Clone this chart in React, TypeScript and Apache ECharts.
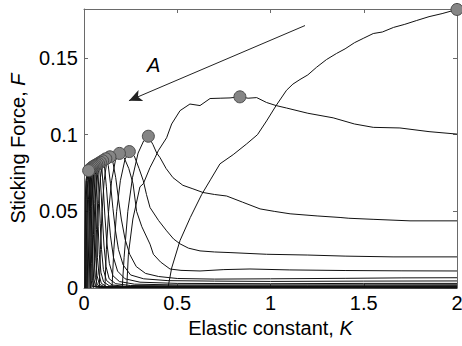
import React, { useEffect, useRef } from "react";
import * as echarts from "echarts";

// ---- data (K, F) ----
const curve1 = [[0.45,0],[0.47,0.013],[0.515,0.031],[0.57,0.046],[0.631,0.061],[0.68,0.071],[0.729,0.081],[0.8,0.087],[0.872,0.094],[0.93,0.1],[0.979,0.109],[1.03,0.119],[1.086,0.129],[1.12,0.133],[1.158,0.136],[1.2,0.139],[1.247,0.144],[1.3,0.149],[1.354,0.153],[1.4,0.156],[1.45,0.16],[1.5,0.163],[1.551,0.166],[1.6,0.167],[1.66,0.17],[1.72,0.172],[1.784,0.1745],[1.85,0.177],[1.92,0.179],[2.0,0.1817]];
const curve2 = [[0.229,0],[0.238,0.022],[0.262,0.045],[0.3,0.066],[0.318,0.068],[0.354,0.0786],[0.381,0.085],[0.398,0.0895],[0.443,0.098],[0.47,0.107],[0.515,0.1157],[0.568,0.12],[0.622,0.119],[0.676,0.1236],[0.73,0.1238],[0.783,0.124],[0.836,0.1247],[0.88,0.1238],[0.926,0.1242],[0.979,0.121],[1.03,0.119],[1.086,0.1174],[1.2,0.114],[1.336,0.111],[1.45,0.107],[1.551,0.1048],[1.694,0.1044],[1.85,0.102],[2.0,0.1004]];
const curve3 = [[0.205,0],[0.215,0.02],[0.235,0.05],[0.26,0.072],[0.29,0.088],[0.32,0.096],[0.345,0.099],[0.37,0.0935],[0.39,0.088],[0.408,0.085],[0.44,0.078],[0.477,0.072],[0.53,0.067],[0.584,0.0647],[0.638,0.0623],[0.7,0.061],[0.765,0.06],[0.85,0.056],[0.944,0.0516],[1.02,0.05],[1.105,0.0484],[1.25,0.047],[1.373,0.046],[1.42,0.0455],[1.55,0.0448],[1.748,0.0438],[2.0,0.0438]];
const curve4 = [[0.15,0],[0.16,0.025],[0.175,0.05],[0.195,0.07],[0.22,0.084],[0.243,0.089],[0.27,0.086],[0.295,0.078],[0.318,0.07],[0.335,0.061],[0.354,0.0525],[0.4,0.044],[0.443,0.0373],[0.48,0.032],[0.515,0.0288],[0.56,0.026],[0.622,0.0242],[0.7,0.0235],[0.783,0.0231],[0.979,0.022],[1.2,0.0215],[1.4,0.0208],[1.657,0.0203],[2.0,0.0203]];
const curve5 = [[0.112,0],[0.12,0.025],[0.132,0.05],[0.148,0.07],[0.168,0.083],[0.19,0.0878],[0.215,0.085],[0.24,0.078],[0.263,0.068],[0.282,0.05],[0.31,0.04],[0.354,0.0286],[0.372,0.022],[0.41,0.017],[0.461,0.0124],[0.52,0.0115],[0.622,0.0111],[0.75,0.012],[0.89,0.0124],[1.1,0.0118],[1.4,0.0114],[1.7,0.0112],[2.0,0.0111]];
const curve6 = [[0.082,0],[0.088,0.025],[0.097,0.05],[0.108,0.07],[0.122,0.082],[0.139,0.0856],[0.155,0.082],[0.17,0.072],[0.185,0.058],[0.2,0.045],[0.22,0.032],[0.245,0.022],[0.28,0.014],[0.33,0.0095],[0.4,0.0075],[0.5,0.0062],[0.7,0.0058],[1.0,0.006],[1.4,0.0063],[1.7,0.0066],[2.0,0.0067]];
const curve7 = [[0.065,0],[0.07,0.03],[0.078,0.055],[0.088,0.072],[0.1,0.081],[0.117,0.0843],[0.13,0.08],[0.142,0.068],[0.155,0.052],[0.168,0.038],[0.185,0.025],[0.21,0.015],[0.25,0.0085],[0.32,0.006],[0.45,0.0048],[0.7,0.0045],[1.0,0.0043],[1.5,0.0045],[2.0,0.0046]];
const curve8 = [[0.052,0],[0.057,0.03],[0.064,0.058],[0.073,0.074],[0.085,0.081],[0.1,0.083],[0.11,0.079],[0.12,0.066],[0.13,0.05],[0.142,0.034],[0.158,0.02],[0.18,0.011],[0.22,0.006],[0.3,0.0038],[0.5,0.003],[1.0,0.0028],[1.5,0.003],[2.0,0.003]];
const curve9 = [[0.042,0],[0.046,0.03],[0.052,0.058],[0.06,0.074],[0.072,0.08],[0.088,0.082],[0.096,0.078],[0.104,0.064],[0.112,0.047],[0.122,0.03],[0.136,0.016],[0.155,0.008],[0.19,0.0042],[0.27,0.0025],[0.5,0.002],[1.0,0.002],[2.0,0.0021]];
const curve10 = [[0.035,0],[0.038,0.03],[0.043,0.058],[0.05,0.073],[0.062,0.079],[0.078,0.0812],[0.085,0.077],[0.092,0.062],[0.099,0.045],[0.107,0.028],[0.118,0.014],[0.135,0.006],[0.17,0.0028],[0.25,0.0016],[0.5,0.0014],[1.2,0.0014],[2.0,0.0015]];
const curve11 = [[0.028,0],[0.031,0.03],[0.035,0.058],[0.041,0.072],[0.053,0.079],[0.069,0.0806],[0.075,0.076],[0.081,0.06],[0.087,0.042],[0.094,0.025],[0.104,0.012],[0.12,0.005],[0.15,0.002],[0.22,0.0011],[0.6,0.001],[2.0,0.001]];
const curve12 = [[0.022,0],[0.025,0.03],[0.029,0.058],[0.035,0.072],[0.046,0.078],[0.061,0.08],[0.066,0.075],[0.071,0.058],[0.076,0.04],[0.082,0.022],[0.091,0.01],[0.105,0.004],[0.135,0.0015],[0.2,0.0008],[2.0,0.0007]];
const curve13 = [[0.018,0],[0.02,0.03],[0.024,0.058],[0.03,0.071],[0.04,0.077],[0.054,0.0795],[0.058,0.074],[0.063,0.056],[0.067,0.038],[0.072,0.02],[0.08,0.009],[0.093,0.003],[0.12,0.001],[0.2,0.0005],[2.0,0.0005]];
const curve14 = [[0.014,0],[0.016,0.03],[0.019,0.058],[0.024,0.071],[0.034,0.077],[0.047,0.079],[0.051,0.073],[0.055,0.055],[0.059,0.036],[0.063,0.019],[0.07,0.008],[0.082,0.0025],[0.11,0.0008],[2.0,0.0003]];
const curve15 = [[0.011,0],[0.013,0.03],[0.016,0.058],[0.02,0.07],[0.029,0.076],[0.041,0.0784],[0.044,0.073],[0.048,0.054],[0.051,0.035],[0.055,0.018],[0.061,0.007],[0.072,0.002],[0.1,0.0005],[2.0,0.0002]];
const curve16 = [[0.008,0],[0.01,0.03],[0.012,0.058],[0.016,0.07],[0.024,0.0755],[0.035,0.0778],[0.038,0.072],[0.041,0.053],[0.044,0.034],[0.047,0.017],[0.052,0.006],[0.062,0.0015],[0.09,0.0003],[2.0,0.0001]];
const curve17 = [[0.006,0],[0.007,0.03],[0.009,0.058],[0.013,0.07],[0.02,0.075],[0.03,0.0772],[0.033,0.071],[0.035,0.052],[0.038,0.033],[0.041,0.016],[0.045,0.005],[0.054,0.001],[0.08,0.0002],[2.0,0.0001]];
const curve18 = [[0.004,0],[0.005,0.03],[0.007,0.058],[0.01,0.07],[0.016,0.074],[0.025,0.0766],[0.028,0.07],[0.03,0.05],[0.032,0.032],[0.035,0.015],[0.038,0.005],[0.045,0.001],[2.0,0.0001]];

const curves = [curve1, curve2, curve3, curve4, curve5, curve6, curve7, curve8, curve9, curve10, curve11, curve12, curve13, curve14, curve15, curve16, curve17, curve18];

// arrow annotation (data coordinates)
const arrowStart = [1.185, 0.1712];
const arrowEnd = [0.241, 0.1222];

const xTicks = { min: 0, max: 2, interval: 0.5 };
const yTicks = { min: 0, max: 0.182, interval: 0.05 };

const FONT = "'Liberation Sans', Arial, Helvetica, sans-serif";

export default function App() {
  const ref = useRef<HTMLDivElement>(null);
  useEffect(() => {
    if (!ref.current) return;
    const chart = echarts.init(ref.current, undefined, { renderer: "svg" });
    const peaks = curves.map((c) => c.reduce((a, b) => (b[1] > a[1] ? b : a)));
    const frameColor = "#6a6a6a";
    const axisCommon = {
      type: "value" as const,
      axisLine: { show: true, onZero: false, lineStyle: { color: frameColor, width: 1 } },
      axisTick: { show: true, inside: true, length: 4, lineStyle: { color: frameColor } },
      splitLine: { show: false },
    };
    const lineSeries = curves.map((c) => ({
      type: "line",
      data: c,
      symbol: "none",
      showSymbol: false,
      lineStyle: { color: "#111111", width: 1 },
      z: 2,
      silent: true,
    }));
    chart.setOption({
      animation: false,
      backgroundColor: "#ffffff",
      grid: { left: 84, right: 5, top: 9, bottom: 58, containLabel: false, outerBoundsMode: "none" },
      textStyle: { fontFamily: FONT },
      xAxis: [
        {
          ...axisCommon,
          position: "bottom",
          ...xTicks,
          name: "Elastic constant, {i|K}",
          nameLocation: "middle",
          nameGap: 28,
          nameTextStyle: { fontSize: 20, color: "#000", fontFamily: FONT, rich: { i: { fontStyle: "italic", fontSize: 20, fontFamily: FONT } } },
          axisLabel: { fontSize: 20, color: "#000", margin: 5, fontFamily: FONT },
        },
        {
          ...axisCommon,
          position: "top",
          ...xTicks,
          axisLabel: { show: false },
        },
      ],
      yAxis: [
        {
          ...axisCommon,
          position: "left",
          ...yTicks,
          name: "Sticking Force, {i|F}",
          nameLocation: "middle",
          nameGap: 55,
          nameTextStyle: { fontSize: 20, color: "#000", fontFamily: FONT, rich: { i: { fontStyle: "italic", fontSize: 20, fontFamily: FONT } } },
          axisLabel: { fontSize: 20, color: "#000", margin: 6, showMaxLabel: false, fontFamily: FONT },
        },
        {
          ...axisCommon,
          position: "right",
          ...yTicks,
          axisLabel: { show: false },
        },
      ],
      series: [
        ...lineSeries,
        {
          type: "scatter",
          data: peaks,
          symbol: "circle",
          symbolSize: 12,
          itemStyle: { color: "#858585", borderColor: "#4a4a4a", borderWidth: 1, opacity: 1 },
          z: 5,
          silent: true,
        },
        {
          type: "line",
          data: [],
          silent: true,
          markLine: {
            silent: true,
            symbol: ["none", "arrow"],
            symbolSize: [9, 13],
            label: { show: false },
            lineStyle: { color: "#222", width: 1, type: "solid" },
            data: [[{ coord: arrowStart }, { coord: arrowEnd }]],
          },
        },
      ],
      graphic: [
        {
          type: "text",
          left: 147,
          top: 55,
          style: { text: "A", fontSize: 20, fontStyle: "italic", fontFamily: FONT, fill: "#000" },
          silent: true,
        },
      ],
    });
    return () => chart.dispose();
  }, []);
  return <div ref={ref} style={{ position: "fixed", left: 0, top: 0, width: 462, height: 346 }} />;
}
